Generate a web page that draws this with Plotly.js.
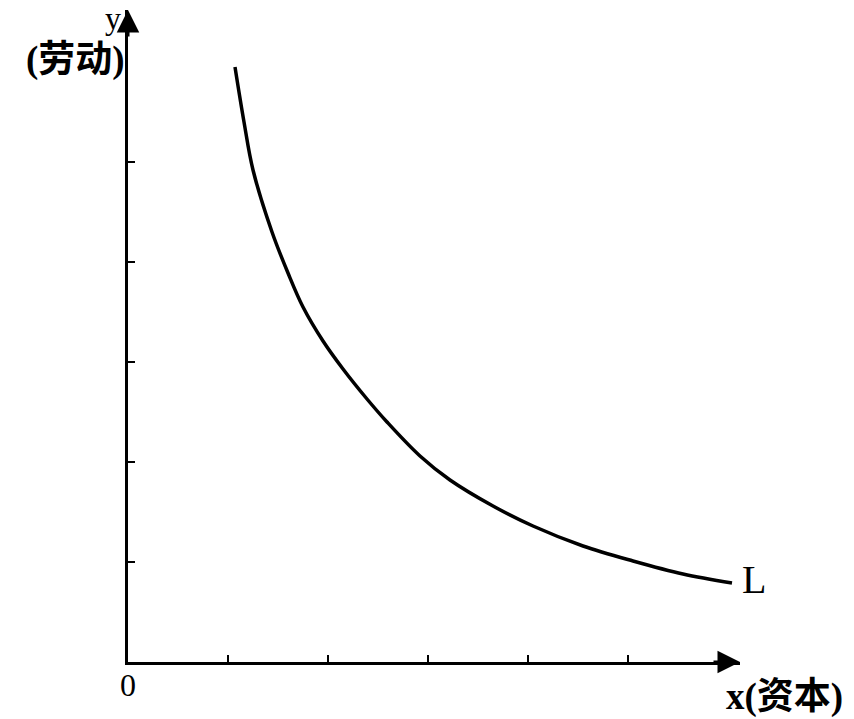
<!DOCTYPE html>
<html>
<head>
<meta charset="utf-8">
<script src="https://cdn.plot.ly/plotly-3.0.1.min.js"></script>
<style>html,body{margin:0;padding:0;background:#fff;}#chart{width:854px;height:719px;}</style>
</head>
<body>
<div id="chart"></div>
<script>
// Isoquant-like curve L (capital x, labour y)
var curveX = [1.07, 1.16, 1.25, 1.44, 1.60, 1.75, 1.95, 2.15, 2.39, 2.59, 2.92, 3.22, 3.65, 4.05, 4.55, 5.05, 5.55, 6.04];
var curveY = [5.95, 5.40, 4.92, 4.30, 3.89, 3.55, 3.21, 2.93, 2.63, 2.40, 2.06, 1.82, 1.56, 1.36, 1.16, 1.01, 0.88, 0.79];
var xTicks = [1, 2, 3, 4, 5];
var yTicks = [1, 2, 3, 4, 5];
var curveLabel = "L";
var xLabel = "x(资本)";
var yLabelTop = "y";
var yLabelUnit = "(劳动)";
var originLabel = "0";

var serif = "Liberation Serif, Noto Sans CJK SC, serif";

var data = [{
  x: curveX, y: curveY, type: "scatter", mode: "lines",
  line: {color: "#000", width: 3.5, shape: "spline", smoothing: 1},
  hoverinfo: "skip", cliponaxis: false
}];

function lab(x, y, text, size) {
  return {x: x, y: y, xref: "paper", yref: "paper", xanchor: "center", yanchor: "middle",
          text: text, showarrow: false, font: {family: serif, size: size, color: "#000"}};
}

var layout = {
  width: 854, height: 719,
  margin: {l: 128, r: 114, t: 10, b: 57},
  paper_bgcolor: "#fff", plot_bgcolor: "#fff",
  showlegend: false,
  xaxis: {range: [0, 6.12], showgrid: false, zeroline: false, showline: true,
          linecolor: "#000", linewidth: 3, tickvals: xTicks, ticks: "inside",
          ticklen: 7, tickwidth: 2.5, tickcolor: "#000", showticklabels: false, fixedrange: true},
  yaxis: {range: [0, 6.52], showgrid: false, zeroline: false, showline: true,
          linecolor: "#000", linewidth: 3, tickvals: yTicks, ticks: "inside",
          ticklen: 7, tickwidth: 2.5, tickcolor: "#000", showticklabels: false, fixedrange: true},
  annotations: [
    {x: 6.12, y: 0, xref: "x", yref: "y", text: "", showarrow: true, ax: -28, ay: 0,
     arrowhead: 2, arrowsize: 1.5, arrowwidth: 3, arrowcolor: "#000"},
    {x: 0, y: 6.52, xref: "x", yref: "y", text: "", showarrow: true, ax: 0, ay: 28,
     arrowhead: 2, arrowsize: 1.5, arrowwidth: 3, arrowcolor: "#000"},
    lab(-0.0245, 0.988, yLabelTop, 32),
    lab(-0.085, 0.924, "<b>" + yLabelUnit + "</b>", 37),
    lab(0, -0.036, originLabel, 32),
    lab(1.072, -0.054, "<b>" + xLabel + "</b>", 37),
    lab(1.023, 0.127, curveLabel, 40)
  ]
};

Plotly.newPlot("chart", data, layout, {displayModeBar: false, staticPlot: true});
</script>
</body>
</html>
